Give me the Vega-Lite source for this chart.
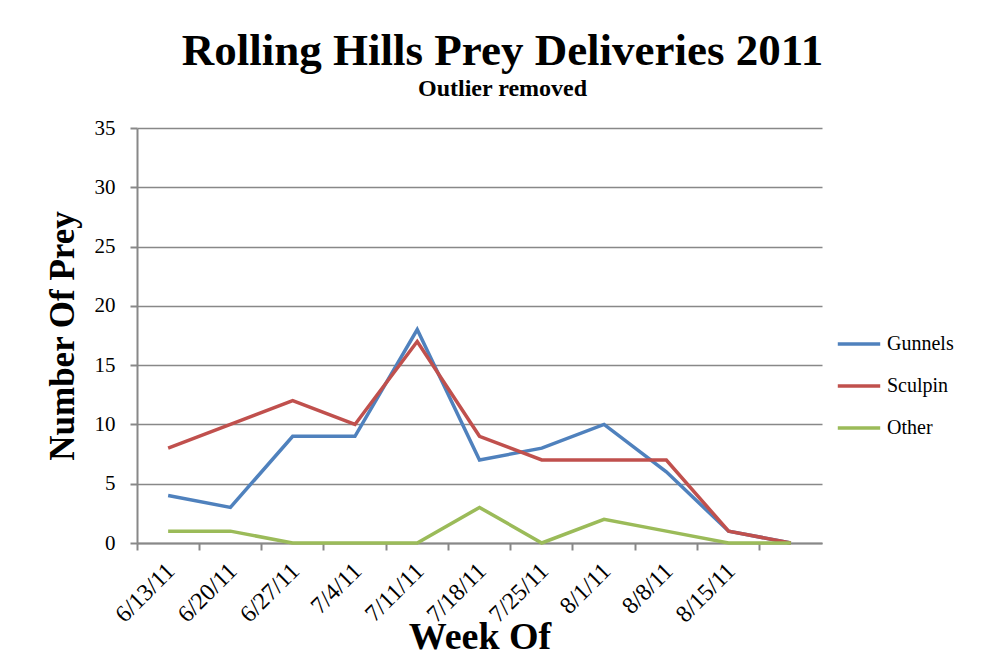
{
  "$schema": "https://vega.github.io/schema/vega-lite/v6.json",
  "autosize": "none",
  "width": 685,
  "height": 415,
  "padding": {"left": 137, "top": 128, "right": 171, "bottom": 116},
  "background": "white",
  "title": {
    "text": "Rolling Hills Prey Deliveries 2011",
    "subtitle": "Outlier removed",
    "font": "Liberation Serif",
    "fontSize": 45,
    "fontWeight": "bold",
    "color": "black",
    "subtitleFont": "Liberation Serif",
    "subtitleFontSize": 24,
    "subtitleFontWeight": "bold",
    "subtitleColor": "black",
    "subtitlePadding": 3,
    "anchor": "middle",
    "dx": 23,
    "offset": 16
  },
  "data": {
    "values": [
      {"week": "6/13/11", "series": "Gunnels", "count": 4},
      {"week": "6/20/11", "series": "Gunnels", "count": 3},
      {"week": "6/27/11", "series": "Gunnels", "count": 9},
      {"week": "7/4/11", "series": "Gunnels", "count": 9},
      {"week": "7/11/11", "series": "Gunnels", "count": 18},
      {"week": "7/18/11", "series": "Gunnels", "count": 7},
      {"week": "7/25/11", "series": "Gunnels", "count": 8},
      {"week": "8/1/11", "series": "Gunnels", "count": 10},
      {"week": "8/8/11", "series": "Gunnels", "count": 6},
      {"week": "8/15/11", "series": "Gunnels", "count": 1},
      {"week": " ", "series": "Gunnels", "count": 0},
      {"week": "6/13/11", "series": "Sculpin", "count": 8},
      {"week": "6/20/11", "series": "Sculpin", "count": 10},
      {"week": "6/27/11", "series": "Sculpin", "count": 12},
      {"week": "7/4/11", "series": "Sculpin", "count": 10},
      {"week": "7/11/11", "series": "Sculpin", "count": 17},
      {"week": "7/18/11", "series": "Sculpin", "count": 9},
      {"week": "7/25/11", "series": "Sculpin", "count": 7},
      {"week": "8/1/11", "series": "Sculpin", "count": 7},
      {"week": "8/8/11", "series": "Sculpin", "count": 7},
      {"week": "8/15/11", "series": "Sculpin", "count": 1},
      {"week": " ", "series": "Sculpin", "count": 0},
      {"week": "6/13/11", "series": "Other", "count": 1},
      {"week": "6/20/11", "series": "Other", "count": 1},
      {"week": "6/27/11", "series": "Other", "count": 0},
      {"week": "7/4/11", "series": "Other", "count": 0},
      {"week": "7/11/11", "series": "Other", "count": 0},
      {"week": "7/18/11", "series": "Other", "count": 3},
      {"week": "7/25/11", "series": "Other", "count": 0},
      {"week": "8/1/11", "series": "Other", "count": 2},
      {"week": "8/8/11", "series": "Other", "count": 1},
      {"week": "8/15/11", "series": "Other", "count": 0},
      {"week": " ", "series": "Other", "count": 0}
    ]
  },
  "mark": {"type": "line", "strokeWidth": 3.5, "strokeJoin": "miter"},
  "encoding": {
    "x": {
      "field": "week",
      "type": "ordinal",
      "sort": null,
      "bandPosition": 0.5,
      "scale": {"type": "band", "paddingInner": 0, "paddingOuter": 0},
      "axis": {
        "title": "Week Of",
        "titleFont": "Liberation Serif",
        "titleFontSize": 38,
        "titleFontWeight": "bold",
        "titleColor": "black",
        "titlePadding": -8,
        "bandPosition": 0,
        "labelAngle": -45,
        "labelAlign": "right",
        "labelBaseline": "middle",
        "labelFont": "Liberation Serif",
        "labelFontSize": 24,
        "labelColor": "black",
        "labelPadding": 17,
        "labelOffset": 3,
        "tickSize": 7,
        "tickColor": "#888888",
        "tickWidth": 2,
        "domainColor": "#888888",
        "domainWidth": 2,
        "grid": false
      }
    },
    "y": {
      "field": "count",
      "type": "quantitative",
      "scale": {"domain": [0, 35], "nice": false},
      "axis": {
        "title": "Number Of Prey",
        "titleFont": "Liberation Serif",
        "titleFontSize": 35,
        "titleFontWeight": "bold",
        "titleColor": "black",
        "titlePadding": 14,
        "values": [0, 5, 10, 15, 20, 25, 30, 35],
        "labelFont": "Liberation Serif",
        "labelFontSize": 21,
        "labelColor": "black",
        "labelPadding": 15,
        "tickSize": 7,
        "tickColor": "#888888",
        "tickWidth": 2,
        "domainColor": "#888888",
        "domainWidth": 2,
        "grid": true,
        "gridColor": "#888888",
        "gridWidth": 1.5
      }
    },
    "color": {
      "field": "series",
      "type": "nominal",
      "sort": ["Gunnels", "Sculpin", "Other"],
      "scale": {"domain": ["Gunnels", "Sculpin", "Other"], "range": ["#4F81BD", "#C0504D", "#9BBB59"]},
      "legend": {
        "title": null,
        "orient": "none",
        "legendX": 699,
        "legendY": 193,
        "symbolType": "stroke",
        "symbolSize": 1800,
        "symbolStrokeWidth": 3.5,
        "labelFont": "Liberation Serif",
        "labelFontSize": 20,
        "labelColor": "black",
        "rowPadding": 9,
        "labelOffset": 5
      }
    }
  },
  "config": {"view": {"stroke": null}}
}
